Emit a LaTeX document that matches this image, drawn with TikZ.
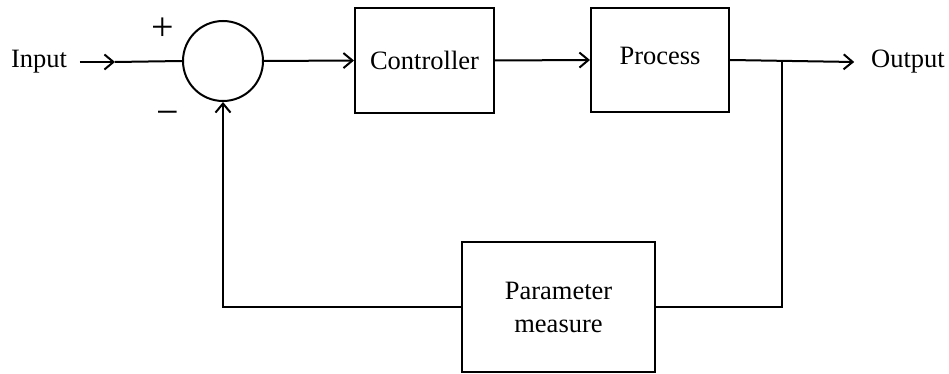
\documentclass[tikz,border=0pt]{standalone}
\usepackage{fontspec}
\setmainfont{Liberation Serif}
\usetikzlibrary{arrows.meta}
\begin{document}
\begin{tikzpicture}[x=1pt,y=-1pt,
  line width=2pt,
  every node/.style={font=\fontsize{26.5}{33}\selectfont},
  blockbox/.style={draw, rectangle, inner sep=0pt},
  arr/.style={-{Straight Barb[length=9pt,width=15pt,line width=2pt]}},
  lbl/.style={inner sep=0pt},
  sign/.style={inner sep=0pt, font=\fontsize{40}{40}\selectfont}]
  \useasboundingbox (0,0) rectangle (949,374);

  % summing junction and blocks
  \node[draw, circle, minimum size=80pt, inner sep=0pt] (sum) at (223,61) {};
  \node[blockbox, minimum width=139pt, minimum height=105pt] (ctrl) at (424.5,60.5) {Controller};
  \node[blockbox, minimum width=138pt, minimum height=104pt] (proc) at (660,60) {\raisebox{8pt}{Process}};
  \node[blockbox, minimum width=193pt, minimum height=130pt, align=center] (meas) at (558.5,307) {Parameter\\measure};

  % terminal labels and signs
  \node[lbl, inner xsep=12pt] (inp) at (39,62) {Input};
  \node[lbl, inner xsep=16pt] (outp) at (908,62) {Output};
  \node[sign] (plus) at (163,29) {+};
  \node[sign] (minus) at (168,118) {−};

  % forward path
  \coordinate (inarr) at (115,62);
  \draw[arr] (inp.east) -- (inarr);
  \draw (inarr) -- (sum.west);
  \draw[arr] (sum.east) -- (ctrl.west);
  \draw[arr] (ctrl.east) -- (proc.west);
  \draw[arr] (proc.east) -- (outp.west);

  % feedback path
  \coordinate (tap) at (782,61);
  \draw (tap) |- (meas.east);
  \draw[arr] (meas.west) -| (sum.south);
\end{tikzpicture}
\end{document}
